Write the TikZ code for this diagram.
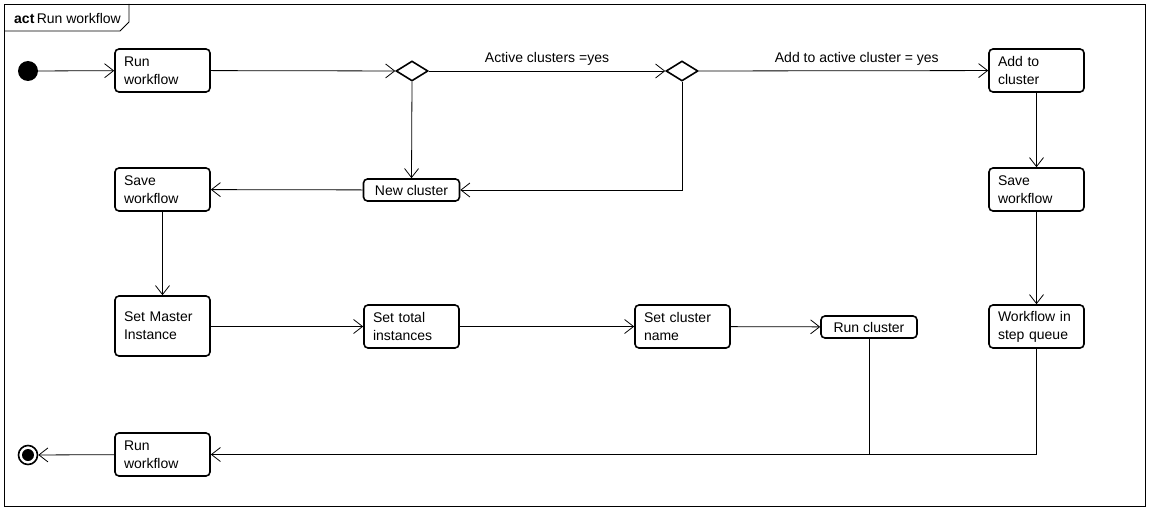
\documentclass[tikz,border=0pt]{standalone}
\usepackage{fontspec}
\setmainfont{Liberation Sans}
\usetikzlibrary{arrows.meta,shapes.geometric}
\begin{document}
\begin{tikzpicture}[x=1pt,y=-1pt,
  every node/.style={font=\fontsize{14}{18}\selectfont},
  actbox/.style={draw, line width=1.6pt, rounded corners=4pt, minimum width=95pt,
    minimum height=43pt, text width=77pt, align=left, inner xsep=9pt, inner ysep=2pt},
  smallbox/.style={draw, line width=1.6pt, rounded corners=4pt, minimum width=96pt,
    minimum height=22pt, inner sep=2pt, align=center},
  decision/.style={draw, diamond, line width=1.6pt, minimum width=32pt,
    minimum height=20pt, inner sep=0pt},
  flow/.style={line width=0.8pt, -{Straight Barb[length=9pt,width=14pt,line width=0.8pt]}},
  wire/.style={line width=0.8pt},
  lbl/.style={inner sep=0pt}
]
\useasboundingbox (0,0) rectangle (1149,511);

% frame with its name tab
\draw[wire] (4,4) rectangle (1145,506);
\draw[wire] (4,31) -- (120,31) -- (129,22) -- (129,4);
\node[lbl, anchor=west] (title) at (14,18) {\textbf{act}\,Run workflow};

% start and end
\node[circle, fill=black, minimum size=20pt, inner sep=0pt] (init) at (28,71) {};
\node[circle, draw, line width=1.6pt, minimum size=19pt, inner sep=0pt] (final) at (28,455) {};
\node[circle, fill=black, minimum size=12pt, inner sep=0pt] (finaldot) at (28,455) {};

% actions
\node[actbox] (run1) at (162.5,70.5) {Run\\workflow};
\node[decision] (d1) at (412,71) {};
\node[decision] (d2) at (682,71) {};
\node[actbox] (add) at (1036.5,70.5) {Add to\\cluster};
\node[smallbox] (newc) at (411.5,190) {New cluster};
\node[actbox] (saveL) at (162.5,189.5) {Save\\workflow};
\node[actbox] (saveR) at (1036.5,189.5) {Save\\workflow};
\node[actbox, minimum height=60pt] (master) at (162.5,326) {Set Master\\Instance};
\node[actbox] (total) at (411.5,326.5) {Set total\\instances};
\node[actbox] (cname) at (682.5,326.5) {Set cluster\\name};
\node[smallbox] (runc) at (869,327) {Run cluster};
\node[actbox] (queue) at (1036.5,326.5) {Workflow in\\step queue};
\node[actbox] (runEnd) at (162.5,454.5) {Run\\workflow};

% flows
\draw[flow] (init) -- (run1);
\draw[flow] (run1) -- (d1);
\draw[flow] (d1) -- node[lbl, above=5pt] (lblActive) {Active clusters =yes} (d2);
\draw[flow] (d2) -- node[lbl, pos=0.546, above=5pt] (lblAdd) {Add to active cluster = yes} (add);
\draw[flow] (d1.south) -- (newc.north);
\draw[flow] (d2.south) |- (newc.east);
\draw[flow] (newc) -- (saveL);
\draw[flow] (saveL) -- (master);
\draw[flow] (master.east |- total.west) -- (total.west);
\draw[flow] (total) -- (cname);
\draw[flow] (cname) -- (runc);
\draw[flow] (add) -- (saveR);
\draw[flow] (saveR) -- (queue);
\coordinate (join) at (runc.south |- runEnd.east);
\draw[flow] (runc.south) |- (runEnd.east);
\draw[wire] (queue.south) |- (join);
\draw[flow] (runEnd) -- (final);
\end{tikzpicture}
\end{document}
